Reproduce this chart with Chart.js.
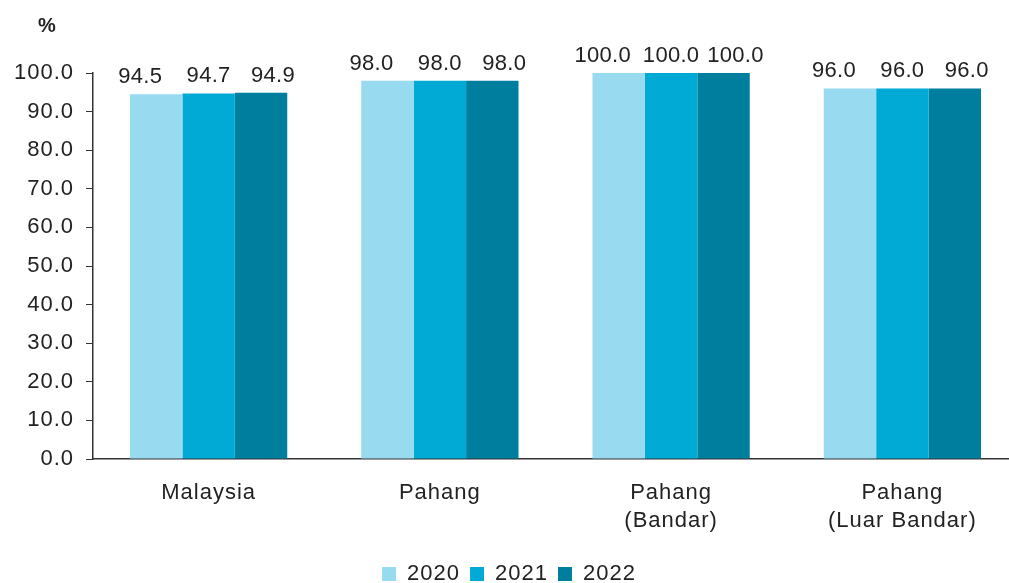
<!DOCTYPE html>
<html>
<head>
<meta charset="utf-8">
<script src="https://cdn.jsdelivr.net/npm/chart.js@4"></script>
<style>
  html, body { margin: 0; padding: 0; background: #fff; overflow: hidden; }
  #wrap { width: 1018px; height: 583px; }
</style>
</head>
<body>
<div id="wrap"><canvas id="myChart" width="1018" height="583"></canvas></div>
<script>
// data
const categories = ["Malaysia", "Pahang", ["Pahang", "(Bandar)"], ["Pahang", "(Luar Bandar)"]];
const years = ["2020", "2021", "2022"];
const values2020 = [94.5, 98.0, 100.0, 96.0];
const values2021 = [94.7, 98.0, 100.0, 96.0];
const values2022 = [94.9, 98.0, 100.0, 96.0];
const yTicks = [0, 10, 20, 30, 40, 50, 60, 70, 80, 90, 100];

const colors = ["#98DAF0", "#00AAD5", "#007E9D"];
const font = "'Liberation Sans', Arial, sans-serif";
const spacing = "1px";
// labels of the outer bars are pushed apart a little, like in the original
const labelShift = [-16, 0, 12];

// stretch text a bit, the original font is wider than Arial
const letterSpacingPlugin = {
  id: "letterSpacing",
  beforeUpdate(chart) { chart.ctx.letterSpacing = spacing; },
  beforeDraw(chart) { chart.ctx.letterSpacing = spacing; },
};

// value labels over bars + the % unit
const valueLabels = {
  id: "valueLabels",
  afterDatasetsDraw(chart) {
    const ctx = chart.ctx;
    ctx.save();
    ctx.letterSpacing = "0.3px";
    ctx.font = "22px " + font;
    ctx.fillStyle = "#222";
    ctx.textAlign = "center";
    ctx.textBaseline = "alphabetic";
    chart.data.datasets.forEach((ds, i) => {
      chart.getDatasetMeta(i).data.forEach((bar, j) => {
        ctx.fillText(ds.data[j].toFixed(1), bar.x + labelShift[i], bar.y - 11);
      });
    });
    ctx.letterSpacing = "0px";
    ctx.font = "bold 20px " + font;
    ctx.fillText("%", 47, 32);
    ctx.restore();
  },
};

const ctx = document.getElementById("myChart");
const myChart = new Chart(ctx, {
  type: "bar",
  data: {
    labels: categories,
    datasets: [
      { label: years[0], data: values2020, backgroundColor: colors[0] },
      { label: years[1], data: values2021, backgroundColor: colors[1] },
      { label: years[2], data: values2022, backgroundColor: colors[2] },
    ],
  },
  options: {
    responsive: false,
    animation: false,
    layout: { padding: { top: 73, right: 0, bottom: -12, left: 0 } },
    datasets: {
      bar: { categoryPercentage: 0.68, barPercentage: 1.0 },
    },
    scales: {
      x: {
        grid: { display: false },
        border: { display: true, color: "#333", width: 1.5 },
        ticks: {
          color: "#222",
          font: { family: font, size: 22, lineHeight: 1.27 },
          padding: 12,
          maxRotation: 0,
        },
        afterFit: (scale) => { scale.height = 94; },
      },
      y: {
        min: 0,
        max: 100,
        afterBuildTicks: (scale) => {
          scale.ticks = yTicks.map((v) => ({ value: v }));
        },
        grid: {
          display: true,
          drawOnChartArea: false,
          drawTicks: true,
          tickLength: 7,
          color: "#333",
        },
        border: { display: true, color: "#333", width: 1.5 },
        ticks: {
          color: "#222",
          font: { family: font, size: 22 },
          padding: 12,
          callback: (v) => Number(v).toFixed(1),
        },
        afterFit: (scale) => { scale.width = 93; },
      },
    },
    plugins: {
      legend: {
        position: "bottom",
        labels: {
          color: "#222",
          font: { family: font, size: 22 },
          boxWidth: 14,
          boxHeight: 14,
          padding: 10,
        },
      },
      tooltip: { enabled: false },
    },
  },
  plugins: [letterSpacingPlugin, valueLabels],
});
</script>
</body>
</html>
